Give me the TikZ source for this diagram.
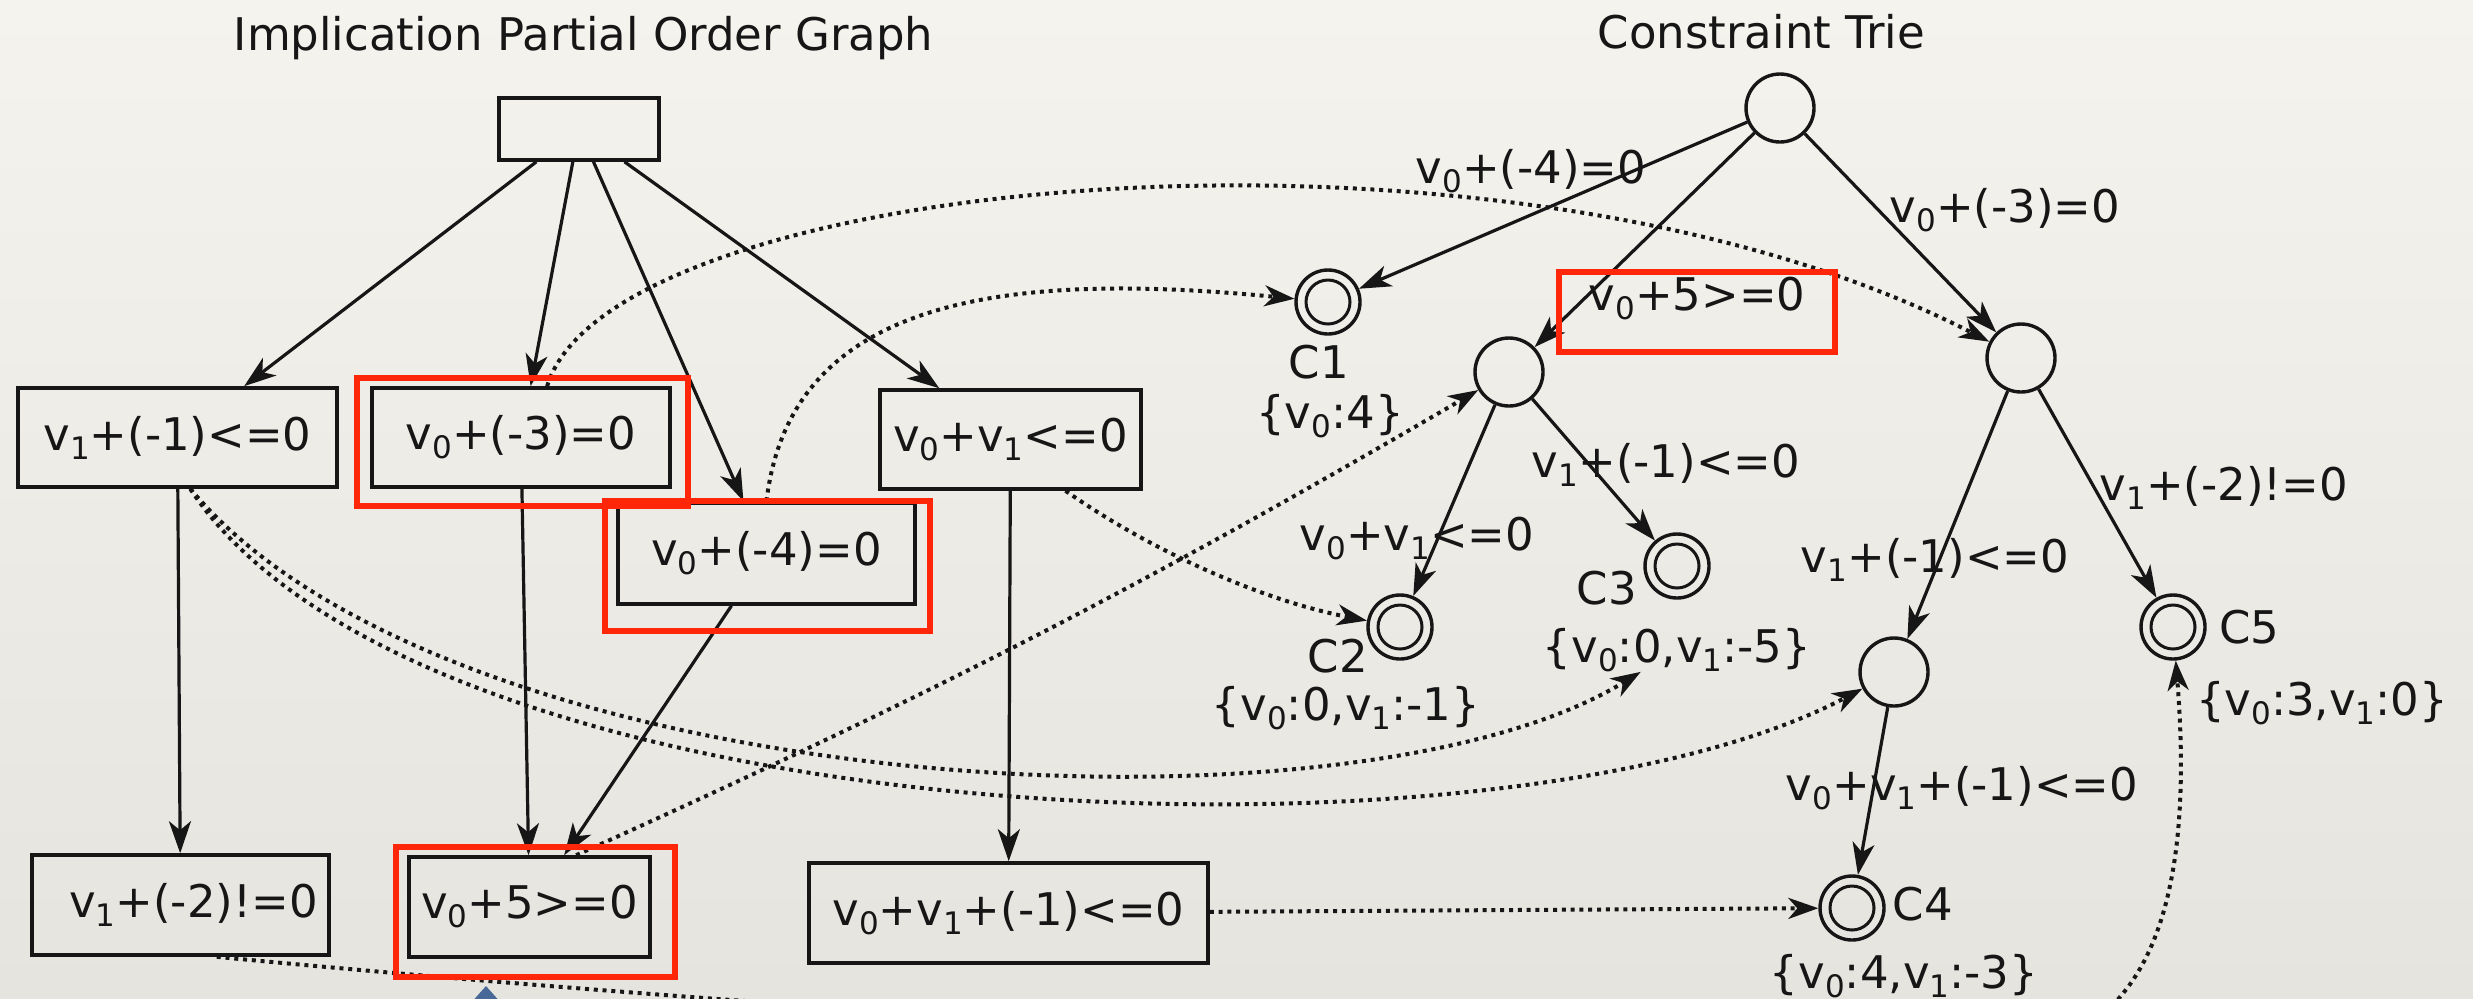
\documentclass[tikz,border=0pt]{standalone}
\usepackage{fontspec}
\setmainfont{DejaVu Sans}
\usetikzlibrary{arrows.meta}
\newcommand\sbs[1]{\raisebox{-0.2em}{\fontsize{15.5pt}{15.5pt}\selectfont#1}}
\definecolor{hlred}{RGB}{255,38,10}
\definecolor{ink}{RGB}{22,22,22}
\definecolor{bgtop}{RGB}{245,243,238}
\definecolor{bgbot}{RGB}{230,228,223}
\definecolor{tri}{RGB}{72,104,152}
\tikzset{
  gbox/.style={draw=ink, line width=1.8pt, rectangle, inner sep=0pt, minimum height=49.5pt, text=ink},
  hl/.style={draw=hlred, line width=2.6pt, rectangle, inner sep=0pt},
  tnode/.style={circle, draw=ink, line width=1.7pt, minimum size=34pt, inner sep=0pt},
  fnode/.style={circle, draw=ink, line width=1.7pt, minimum size=32pt, inner sep=0pt,
    path picture={\draw[ink, line width=1.5pt] (path picture bounding box.center) circle[radius=11pt];}},
  solidarr/.style={draw=ink, line width=1.6pt, -{Stealth[length=16pt,width=11pt,inset=4.5pt]}},
  dotarr/.style={draw=ink, line width=2pt, dash pattern=on 2pt off 2.4pt, -{Stealth[length=15pt,width=10.5pt,inset=4.5pt]}},
  lbl/.style={inner sep=0pt, anchor=base, text=ink},
}
\begin{document}
\begin{tikzpicture}[x=0.5pt, y=-0.5pt, font=\fontsize{22.5pt}{27pt}\selectfont]
\useasboundingbox (0,0) rectangle (2473,998);
\begin{scope}
\clip (0,0) rectangle (2473,998);
\shade[top color=bgtop, bottom color=bgbot] (0,0) rectangle (2473,998);

% titles
\node[lbl] (t1) at (583.5,50) {Implication Partial Order Graph};
\node[lbl] (t2) at (1761.5,48) {Constraint Trie};

% implication graph boxes
\node[gbox, minimum width=80pt, minimum height=31pt] (root) at (579,129) {};
\node[gbox, minimum width=159.5pt] (A) at (177.5,437.5) {v\sbs{1}+(-1)<=0};
\node[gbox, minimum width=149pt] (B) at (521,437.5) {v\sbs{0}+(-3)=0\hspace{17pt}};
\node[gbox, minimum width=148.5pt, minimum height=50.5pt] (C) at (766.5,553.5) {v\sbs{0}+(-4)=0\hspace{20pt}};
\node[gbox, minimum width=130.5pt] (D) at (1010.5,439.5) {v\sbs{0}+v\sbs{1}<=0};
\node[gbox, minimum width=148.5pt, minimum height=50pt] (E) at (180.5,905) {\hspace{13pt}v\sbs{1}+(-2)!=0};
\node[gbox, minimum width=120.5pt, minimum height=50pt] (F) at (529.5,907) {v\sbs{0}+5>=0};
\node[gbox, minimum width=199.5pt, minimum height=50pt] (G) at (1008.5,913) {v\sbs{0}+v\sbs{1}+(-1)<=0};

\draw[solidarr] (root) -- (A);
\draw[solidarr] (root) -- (B);
\draw[solidarr] (root) -- (C);
\draw[solidarr] (root) -- (D);
\draw[solidarr] (A) -- (E);
\draw[solidarr] (B) -- (F);
\draw[solidarr] (C) -- (F);
\draw[solidarr] (D) -- (G);

% trie nodes
\node[tnode] (R) at (1780,108) {};
\node[fnode] (C1) at (1328,302) {};
\node[tnode] (N1) at (1509,372) {};
\node[tnode] (N2) at (2021,358) {};
\node[fnode] (C2) at (1400,627) {};
\node[fnode] (C3) at (1677,566) {};
\node[tnode] (N3) at (1894,672) {};
\node[fnode] (C4) at (1852,908) {};
\node[fnode] (C5) at (2173,627) {};

\draw[solidarr] (R) -- (C1);
\draw[solidarr] (R) -- (N1);
\draw[solidarr] (R) -- (N2);
\draw[solidarr] (N1) -- (C2);
\draw[solidarr] (N1) -- (C3);
\draw[solidarr] (N2) -- (N3);
\draw[solidarr] (N2) -- (C5);
\draw[solidarr] (N3) -- (C4);

% trie labels
\node[lbl] (l1) at (1531,183) {v\sbs{0}+(-4)=0};
\node[lbl] (l2) at (1697,310) {v\sbs{0}+5>=0};
\node[lbl] (l3) at (2005,222) {v\sbs{0}+(-3)=0};
\node[lbl] (l4) at (1666,477) {v\sbs{1}+(-1)<=0};
\node[lbl] (l5) at (1417,550) {v\sbs{0}+v\sbs{1}<=0};
\node[lbl] (l6) at (1935,572) {v\sbs{1}+(-1)<=0};
\node[lbl] (l7) at (2224,500) {v\sbs{1}+(-2)!=0};
\node[lbl] (l8) at (1962,800) {v\sbs{0}+v\sbs{1}+(-1)<=0};
\node[lbl] (c1n) at (1319,378) {C1};
\node[lbl] (c1v) at (1330,428) {\{v\sbs{0}:4\}};
\node[lbl] (c2n) at (1338,672) {C2};
\node[lbl] (c2v) at (1346,720) {\{v\sbs{0}:0,v\sbs{1}:-1\}};
\node[lbl] (c3n) at (1607,604) {C3};
\node[lbl] (c3v) at (1677,662) {\{v\sbs{0}:0,v\sbs{1}:-5\}};
\node[lbl] (c4n) at (1923,920) {C4};
\node[lbl] (c4v) at (1904,988) {\{v\sbs{0}:4,v\sbs{1}:-3\}};
\node[lbl] (c5n) at (2249,643) {C5};
\node[lbl] (c5v) at (2322,715) {\{v\sbs{0}:3,v\sbs{1}:0\}};

% dotted mapping connectors
\draw[dotarr] (B.63) .. controls (610,175) and (1500,90) .. (N2);
\draw[dotarr] (C.north) .. controls (790,300) and (1000,270) .. (C1);
\draw[dotarr] (A.-76) .. controls (450,800) and (1350,850) .. (c3v);
\draw[dotarr] (A.-76) .. controls (420,840) and (1500,880) .. (N3);
\draw[dotarr] (D.-43) .. controls (1150,550) and (1260,600) .. (C2);
\draw[dotarr] (F.48) to[bend right=3] (N1);
\draw[dotarr] (G) -- (C4);
\coordinate (under) at (2000,1050);
\draw[dotarr] (E.-55) .. controls (700,1003) and (1500,1060) .. (under) .. controls (2150,1045) and (2195,900) .. (C5);

% red highlights
\node[hl, minimum width=165.5pt, minimum height=64pt] (hB) at (522.5,442) {};
\node[hl, minimum width=162.5pt, minimum height=65pt] (hC) at (767.5,566) {};
\node[hl, minimum width=139.5pt, minimum height=65pt] (hF) at (535.5,912) {};
\node[hl, minimum width=138pt, minimum height=40pt] (hT) at (1697,312) {};

% callout tip at bottom
\fill[tri] (486,986) -- (470,1004) -- (502,1004) -- cycle;
\end{scope}
\end{tikzpicture}
\end{document}
